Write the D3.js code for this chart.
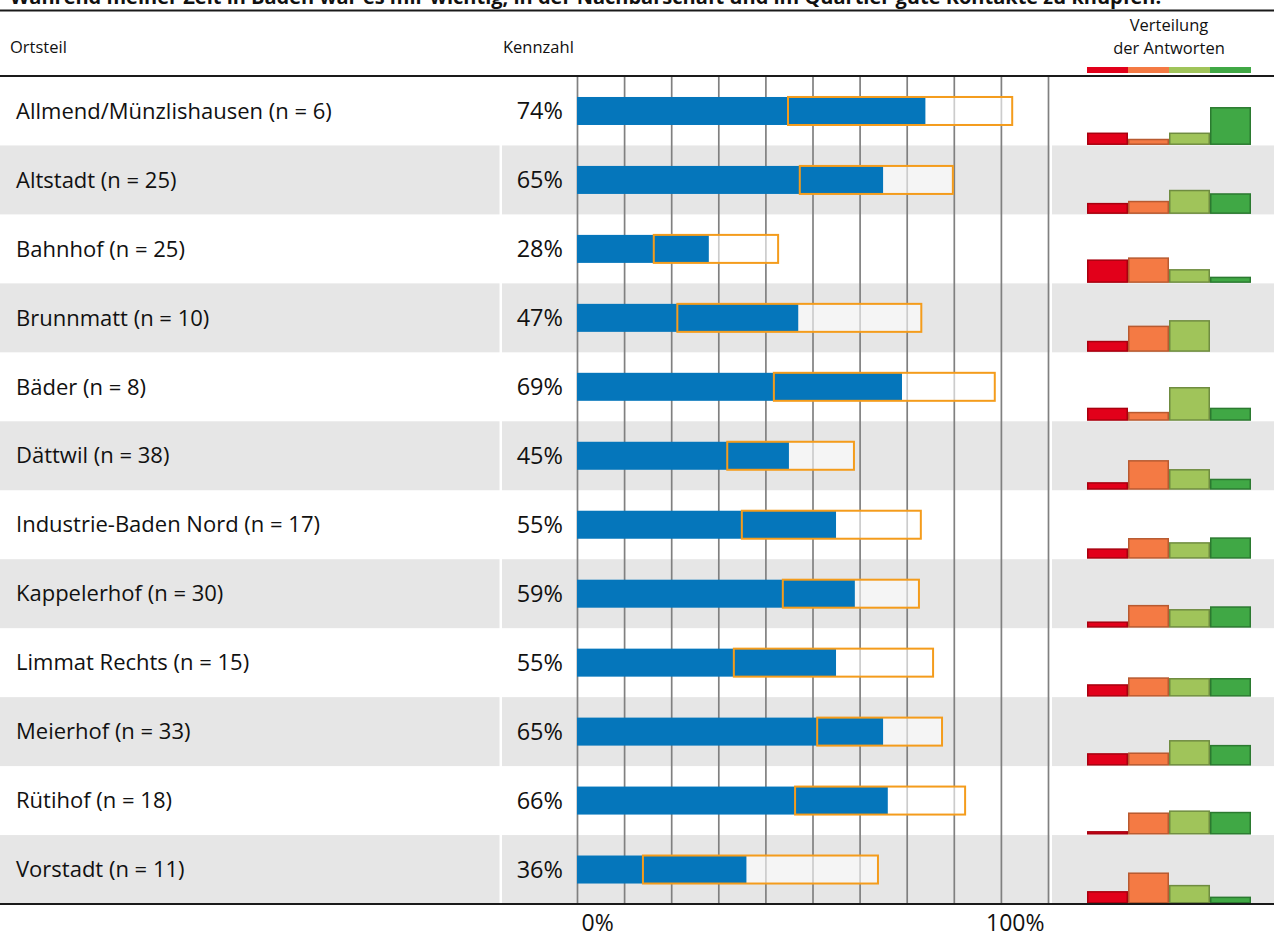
<!DOCTYPE html>
<html>
<head>
<meta charset="utf-8">
<script src="https://cdn.jsdelivr.net/npm/d3@7"></script>
<style>
  body { margin: 0; background: #fff; }
  svg text { font-family: "Open Sans", sans-serif; fill: #111; }
</style>
</head>
<body>
<div id="chart"></div>
<script>
// Kennzahl je Ortsteil, mit Vertrauensintervall und Verteilung der Antworten
const title = "Während meiner Zeit in Baden war es mir wichtig, in der Nachbarschaft und im Quartier gute Kontakte zu knüpfen.";
const ortsteile = ["Allmend/Münzlishausen", "Altstadt", "Bahnhof", "Brunnmatt", "Bäder", "Dättwil",
    "Industrie-Baden Nord", "Kappelerhof", "Limmat Rechts", "Meierhof", "Rütihof", "Vorstadt"];
const nValues = [6, 25, 25, 10, 8, 38, 17, 30, 15, 33, 18, 11];
const kennzahl = [74, 65, 28, 47, 69, 45, 55, 59, 55, 65, 66, 36];
const ciLow = [44.8, 47.3, 16.3, 21.3, 41.8, 31.9, 35.0, 43.7, 33.3, 51.0, 46.3, 14.0];
const ciHigh = [92.4, 79.8, 42.7, 73.1, 88.7, 58.8, 73.0, 72.6, 75.6, 77.5, 82.4, 63.9];

// Verteilung der Antworten in % (rot, orange, hellgrün, grün)
const antwortKlassen = ["a1", "a2", "a3", "a4"];
const distRed        = [18, 16, 34, 16, 19, 11, 15,  9, 18, 18,  5, 18];
const distOrange     = [ 9, 19, 37, 38, 13, 43, 30, 33, 28, 19, 32, 45];
const distLightGreen = [18, 35, 20, 46, 49, 30, 24, 27, 27, 37, 35, 27];
const distGreen      = [55, 30,  9,  0, 19, 16, 31, 31, 27, 30, 33, 10];
const xTicks = [0, 100];

const fillColors = ["#e2001a", "#f47a44", "#a0c45a", "#40a845"];
const strokeColors = ["#a8000f", "#b85a30", "#6f8c40", "#2b7a30"];

const width = 1274, height = 938;
const rowTop = 76.5, rowBottom = 904;

const rows = ortsteile.map((o, i) => ({
    name: o, n: nValues[i], value: kennzahl[i], lo: ciLow[i], hi: ciHigh[i],
    dist: [distRed[i], distOrange[i], distLightGreen[i], distGreen[i]]
}));

const svg = d3.select("#chart").append("svg")
    .attr("width", width)
    .attr("height", height);

const y = d3.scaleBand()
    .domain(ortsteile)
    .range([rowTop, rowBottom])
    .padding(0);

const x = d3.scaleLinear()
    .domain([0, 100])
    .range([577, 1048]);

const xd = d3.scaleBand()
    .domain(antwortKlassen)
    .range([1087, 1251])
    .padding(0);

const h = d3.scaleLinear()
    .domain([0, 100])
    .range([0, y.bandwidth()]);

// Titel (oben angeschnitten)
svg.append("text")
    .attr("x", 10)
    .attr("y", 4)
    .style("font-size", "20px")
    .style("font-weight", "bold")
    .text(title);

// Kopfzeile
svg.append("text").attr("x", 10).attr("y", 53).style("font-size", "16.5px").text("Ortsteil");
svg.append("text").attr("x", 503).attr("y", 53).style("font-size", "16.5px").text("Kennzahl");
svg.append("text").attr("x", 1169).attr("y", 31).attr("text-anchor", "middle")
    .style("font-size", "16.5px").text("Verteilung");
svg.append("text").attr("x", 1169).attr("y", 54).attr("text-anchor", "middle")
    .style("font-size", "16.5px").text("der Antworten");

svg.selectAll("rect.legend")
    .data(antwortKlassen)
    .enter()
    .append("rect")
    .attr("class", "legend")
    .attr("x", d => xd(d))
    .attr("y", 67)
    .attr("width", xd.bandwidth())
    .attr("height", 6)
    .attr("fill", (d, i) => fillColors[i]);

// graue Zeilenhintergründe (mit kleinen Lücken zwischen den Spalten)
const bandSegments = [[0, 499.5], [502, 1049.5], [1052, width]];
rows.forEach((r, i) => {
    if (i % 2 === 0) return;
    bandSegments.forEach(s => {
        svg.append("rect")
            .attr("x", s[0])
            .attr("y", y(r.name))
            .attr("width", s[1] - s[0])
            .attr("height", y.bandwidth())
            .attr("fill", "#e6e6e6");
    });
});

// Gitterlinien
svg.append("g")
    .attr("class", "grid")
    .attr("transform", "translate(0," + rowTop + ")")
    .call(d3.axisBottom(x).tickValues(d3.range(0, 101, 10)).tickSize(rowBottom - rowTop).tickFormat(""))
    .call(g => g.select(".domain").remove())
    .call(g => g.selectAll(".tick line").attr("stroke", "#808080").attr("stroke-width", 1.7));

// Balken
const barH = 28;
const bars = svg.selectAll("g.row")
    .data(rows)
    .enter()
    .append("g")
    .attr("class", "row")
    .attr("transform", d => "translate(0," + (y(d.name) + y.bandwidth() / 2) + ")");

bars.append("rect")
    .attr("x", x(0))
    .attr("y", -barH / 2)
    .attr("width", d => x(d.value) - x(0))
    .attr("height", barH)
    .attr("fill", "#0576bb");

bars.append("rect")
    .attr("x", d => x(d.value))
    .attr("y", -barH / 2)
    .attr("width", d => x(d.hi) - x(d.value))
    .attr("height", barH)
    .attr("fill", "#fff")
    .attr("fill-opacity", 0.6);

bars.append("rect")
    .attr("x", d => x(d.lo))
    .attr("y", -barH / 2)
    .attr("width", d => x(d.hi) - x(d.lo))
    .attr("height", barH)
    .attr("fill", "none")
    .attr("stroke", "#f49c1c")
    .attr("stroke-width", 2);

bars.append("text")
    .attr("x", 16)
    .attr("dy", "0.35em")
    .style("font-size", "22px")
    .text(d => d.name + " (n = " + d.n + ")");

bars.append("text")
    .attr("x", 563)
    .attr("dy", "0.35em")
    .attr("text-anchor", "end")
    .style("font-size", "23.5px")
    .text(d => d.value + "%");

// Verteilung der Antworten
const dist = svg.selectAll("g.dist")
    .data(rows)
    .enter()
    .append("g")
    .attr("class", "dist")
    .attr("transform", d => "translate(0," + (y(d.name) + y.bandwidth() - 0.5) + ")");

dist.selectAll("rect")
    .data(d => d.dist.map((v, i) => ({ v: v, k: antwortKlassen[i], i: i })).filter(e => e.v > 0))
    .enter()
    .append("rect")
    .attr("x", d => xd(d.k) + 0.75)
    .attr("y", d => -h(d.v) + 0.75)
    .attr("width", xd.bandwidth() - 1.5)
    .attr("height", d => Math.max(0, h(d.v) - 1.5))
    .attr("fill", d => fillColors[d.i])
    .attr("stroke", d => strokeColors[d.i])
    .attr("stroke-width", 1.5);

// Linien
[10.5, 76, 904].forEach(ly => {
    svg.append("line")
        .attr("x1", 0).attr("x2", width)
        .attr("y1", ly).attr("y2", ly)
        .attr("stroke", "#1a1a1a")
        .attr("stroke-width", 2);
});

// x-Achse
const xAxis = svg.append("g")
    .attr("transform", "translate(0,906)")
    .call(d3.axisBottom(x).tickValues(xTicks).tickSize(0).tickFormat(d => d + "%"));
xAxis.select(".domain").remove();
xAxis.selectAll("text")
    .attr("y", 9)
    .style("font-size", "23px")
    .style("font-family", "'Open Sans', sans-serif")
    .attr("fill", "#111")
    .attr("text-anchor", (d, i) => i === 0 ? "start" : "end")
    .attr("dx", (d, i) => i === 0 ? 4 : -4);
</script>
</body>
</html>
